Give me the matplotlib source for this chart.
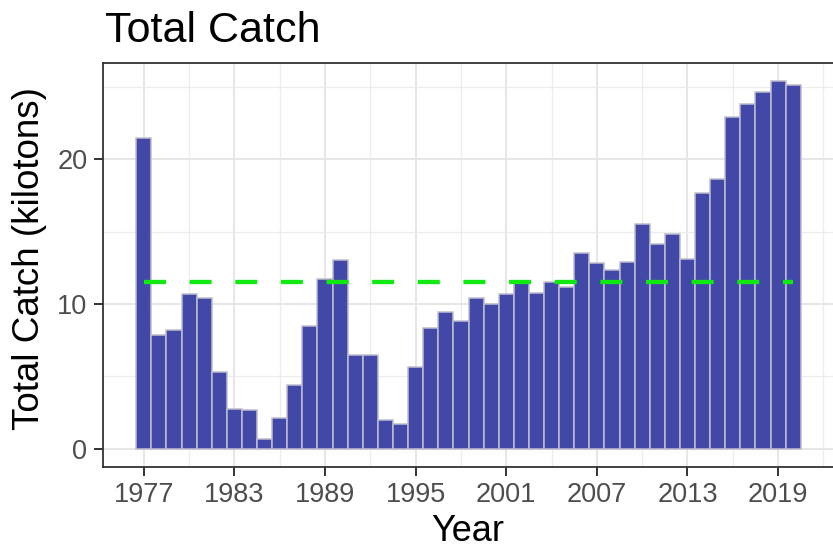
import matplotlib
matplotlib.use("Agg")
import matplotlib.pyplot as plt
from matplotlib.ticker import FixedLocator

plt.rcParams['font.family'] = ['Liberation Sans', 'DejaVu Sans']

years = list(range(1977, 2021))
catch = [21.5, 7.9, 8.2, 10.7, 10.4, 5.3, 2.76, 2.67, 0.69, 2.14,
         4.44, 8.46, 11.7, 13.06, 6.46, 6.46, 1.98, 1.72, 5.66, 8.32,
         9.43, 8.8, 10.4, 10.0, 10.7, 11.6, 10.76, 11.56, 11.15, 13.5,
         12.87, 12.37, 12.9, 15.54, 14.14, 14.85, 13.1, 17.66, 18.67, 22.94,
         23.79, 24.67, 25.4, 25.13]
mean_catch = 11.5
x_ticks = [1977, 1983, 1989, 1995, 2001, 2007, 2013, 2019]
y_ticks = [0, 10, 20]

W, H = 833, 551
fig = plt.figure(figsize=(W / 100, H / 100), dpi=100)
left, right, top, bottom = 103, 834, 62.7, 467
ax = fig.add_axes([left / W, 1 - bottom / H, (right - left) / W, (bottom - top) / H])

ax.set_axisbelow(True)
ax.bar(years, catch, width=1.0, color='#4148a8', edgecolor='#bdbdcd', linewidth=1.1, zorder=2)
ax.plot([years[0], years[-1]], [mean_catch, mean_catch], color='#10ea10', lw=3.1,
        dashes=(5.1, 5.5), solid_capstyle='butt', dash_capstyle='butt', zorder=3)

ax.set_xlim(1974.3, 2022.7)
ax.set_ylim(-1.25, 26.67)
ax.xaxis.set_major_locator(FixedLocator(x_ticks))
ax.xaxis.set_minor_locator(FixedLocator([t + 3 for t in x_ticks] + [1974]))
ax.yaxis.set_major_locator(FixedLocator(y_ticks))
ax.yaxis.set_minor_locator(FixedLocator([5, 15, 25]))

ax.grid(which='major', color='#e4e4e4', lw=1.3)
ax.grid(which='minor', color='#ececec', lw=0.9)

for s in ax.spines.values():
    s.set_color('#333333')
    s.set_linewidth(1.3)
ax.spines['right'].set_visible(False)

ax.tick_params(which='major', length=6.3, width=1.4, color='#333333',
               labelsize=19.5, labelcolor='#4d4d4d')
ax.tick_params(axis='x', which='major', pad=4.5)
ax.tick_params(axis='y', which='major', pad=5)
ax.tick_params(which='minor', length=0)

fig.text(105 / W, 1 - 42 / H, 'Total Catch', fontsize=31, color='black',
         ha='left', va='baseline')
fig.text(467.5 / W, 1 - 541 / H, 'Year', fontsize=26, color='black',
         ha='center', va='baseline')
fig.text(30 / W, 1 - 259 / H, 'Total Catch (kilotons)', fontsize=26.5,
         color='black', ha='center', va='center', rotation=90)

fig.savefig('out.png', dpi=100)
